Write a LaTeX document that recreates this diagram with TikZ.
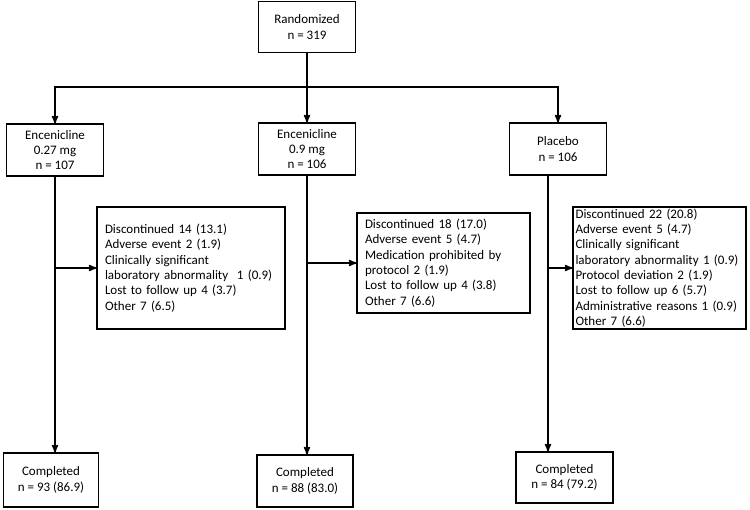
\documentclass[tikz,border=0pt]{standalone}
\usepackage{fontspec}
\setmainfont{Carlito}
\usetikzlibrary{arrows,positioning}
\newcommand{\newBox}[4]{\node[#3](#1) at (#4) {#2};}
\newcommand{\newLink}[3]{\path (#1) edge [#3] (#2);}

\begin{document}
\begin{tikzpicture}[
    % One unit per pixel, y running downwards
    x=1pt,y=-1pt,
    % Default arrow tip
    >=stealth',
    % Connector stroke
    line width=1.6pt,
    box/.style={draw,rectangle,line width=1.4pt,inner sep=2pt,
      font=\fontsize{13}{15.3}\selectfont},
    arm/.style={box,align=center,minimum width=97pt,minimum height=52pt},
    list/.style={box,align=left,inner xsep=8pt,inner ysep=1pt},
    elbow/.style={to path={-| (\tikztotarget)}}
    ]
    \useasboundingbox (0,0) rectangle (750,509);

    \newBox{rand}{Randomized\\n = 319}{arm,minimum height=51pt}{307,27}

    \newBox{enc27}{Encenicline\\0.27 mg\\n = 107}{arm}{55,150}
    \newBox{enc09}{Encenicline\\0.9 mg\\n = 106}{arm}{307,149}
    \newBox{plac}{Placebo\\n = 106}{arm}{558,149}

    \newBox{discL}{Discontinued 14 (13.1)\\Adverse event 2 (1.9)\\Clinically significant\\laboratory abnormality\ \ 1 (0.9)\\Lost to follow up 4 (3.7)\\Other 7 (6.5)}{list,text width=172pt,minimum height=122pt}{191,268}
    \newBox{discM}{Discontinued 18 (17.0)\\Adverse event 5 (4.7)\\Medication prohibited by\\protocol 2 (1.9)\\Lost to follow up 4 (3.8)\\Other 7 (6.6)}{list,text width=157pt,minimum height=100pt}{443.5,263}
    \newBox{discR}{Discontinued 22 (20.8)\\Adverse event 5 (4.7)\\Clinically significant\\laboratory abnormality 1 (0.9)\\Protocol deviation 2 (1.9)\\Lost to follow up 6 (5.7)\\Administrative reasons 1 (0.9)\\Other 7 (6.6)}{list,text width=168pt,inner xsep=2.5pt,minimum height=122pt}{659.5,268}

    \newBox{compL}{Completed\\n = 93 (86.9)}{arm,minimum width=95pt,minimum height=54pt}{51,480}
    \newBox{compM}{Completed\\n = 88 (83.0)}{arm,minimum width=96pt}{305,481}
    \newBox{compR}{Completed\\n = 84 (79.2)}{arm,minimum height=51pt}{564.5,477.5}

    \coordinate (split) at (307,87);
    \coordinate (pout) at ([xshift=-10pt]plac.south);

    \newLink{rand}{split}{-}
    \newLink{split}{enc27}{->,elbow}
    \newLink{split}{enc09}{->}
    \newLink{split}{plac}{->,elbow}

    \newLink{enc27}{enc27 |- compL.north}{->}
    \newLink{enc09}{enc09 |- compM.north}{->}
    \newLink{pout}{pout |- compR.north}{->}

    \newLink{enc27 |- discL.west}{discL}{->}
    \newLink{enc09 |- discM.west}{discM}{->}
    \newLink{pout |- discR.west}{discR}{->}
  \end{tikzpicture}
\end{document}
